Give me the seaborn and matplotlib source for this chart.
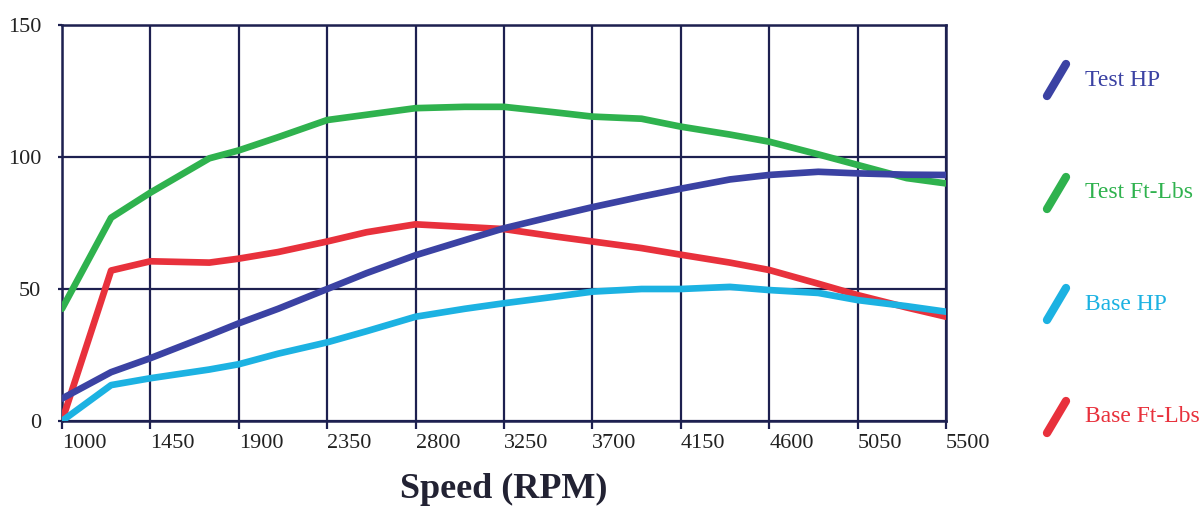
import matplotlib
matplotlib.use("Agg")
import matplotlib.pyplot as plt
import seaborn as sns
import pandas as pd
from matplotlib.lines import Line2D

# engine speed samples (RPM)
rpm = [1000, 1250, 1450, 1750, 1900, 2100, 2350, 2550, 2800, 3050, 3250,
       3500, 3700, 3950, 4150, 4400, 4600, 4850, 5050, 5300, 5500]

test_hp = [8.5, 18.5, 23.8, 32.5, 37.0, 42.5, 50.0, 56.0, 62.8, 68.5, 73.0,
           77.5, 81.0, 85.0, 88.0, 91.5, 93.2, 94.4, 93.8, 93.3, 93.2]
test_ftlbs = [42.5, 77.0, 86.5, 99.5, 102.5, 107.5, 114.0, 116.0, 118.5, 119.0, 119.0,
              117.0, 115.3, 114.5, 111.5, 108.5, 105.8, 101.0, 97.0, 92.0, 90.0]
base_hp = [0.0, 13.6, 16.2, 19.5, 21.5, 25.5, 29.8, 34.0, 39.5, 42.5, 44.6,
           47.0, 49.0, 50.0, 50.0, 50.8, 49.6, 48.5, 45.8, 43.5, 41.4]
base_ftlbs = [0.0, 57.0, 60.5, 60.0, 61.5, 64.0, 68.0, 71.5, 74.5, 73.5, 72.7,
              70.0, 68.0, 65.5, 63.0, 60.0, 57.2, 52.0, 47.7, 43.0, 39.5]

series = ["Test HP", "Test Ft-Lbs", "Base HP", "Base Ft-Lbs"]
colors = {"Test HP": "#3b42a3", "Test Ft-Lbs": "#2fb24e",
          "Base HP": "#1cb2e2", "Base Ft-Lbs": "#e8313c"}
x_ticks = [1000, 1450, 1900, 2350, 2800, 3250, 3700, 4150, 4600, 5050, 5500]
y_ticks = [0, 50, 100, 150]

df = pd.concat([
    pd.DataFrame({"RPM": rpm, "Value": vals, "Series": name})
    for name, vals in zip(series, [test_hp, test_ftlbs, base_hp, base_ftlbs])
])

sns.set_style("white")
plt.rcParams["font.family"] = ["Liberation Serif", "DejaVu Serif"]

grid_c = "#1d2050"
fig = plt.figure(figsize=(12.01, 5.07), dpi=100)
ax = fig.add_axes([62 / 1201, 1 - 421 / 507, (946 - 62) / 1201, (421 - 25) / 507])

# draw in reverse so Test HP ends on top like the original
for name in ["Base Ft-Lbs", "Base HP", "Test Ft-Lbs", "Test HP"]:
    sns.lineplot(data=df[df["Series"] == name], x="RPM", y="Value",
                 color=colors[name], linewidth=4.8, ax=ax, legend=False,
                 solid_capstyle="round", zorder=3)

ax.set_xlim(1000, 5500)
ax.set_ylim(0, 150)
ax.set_xticks(x_ticks)
ax.set_yticks(y_ticks)
ax.set_xticklabels([str(t) for t in x_ticks], ha="left")
ax.grid(True, color=grid_c, linewidth=1.6, zorder=1)
for s in ax.spines.values():
    s.set_color(grid_c)
    s.set_linewidth(1.8)
ax.tick_params(axis="x", length=6, width=1.6, color=grid_c, pad=3,
               labelsize=16, labelcolor="#222222", bottom=True)
ax.tick_params(axis="y", length=3, width=1.6, color=grid_c, pad=12,
               labelsize=16, labelcolor="#222222", left=True)
ax.set_xlabel("Speed (RPM)", fontsize=26, fontweight="bold", color="#222233", labelpad=15)
ax.set_ylabel("")

# hand-drawn style legend on the right
leg_y = [80, 193, 304, 417]
for name, yc in zip(series, leg_y):
    fig.add_artist(Line2D([1047 / 1201, 1066 / 1201],
                          [1 - (yc + 16) / 507, 1 - (yc - 16) / 507],
                          color=colors[name], linewidth=6, solid_capstyle="round"))
    fig.text(1085 / 1201, 1 - yc / 507, name, color=colors[name],
             fontsize=17, va="center", ha="left")

plt.savefig("out.png", dpi=100, facecolor="white")
